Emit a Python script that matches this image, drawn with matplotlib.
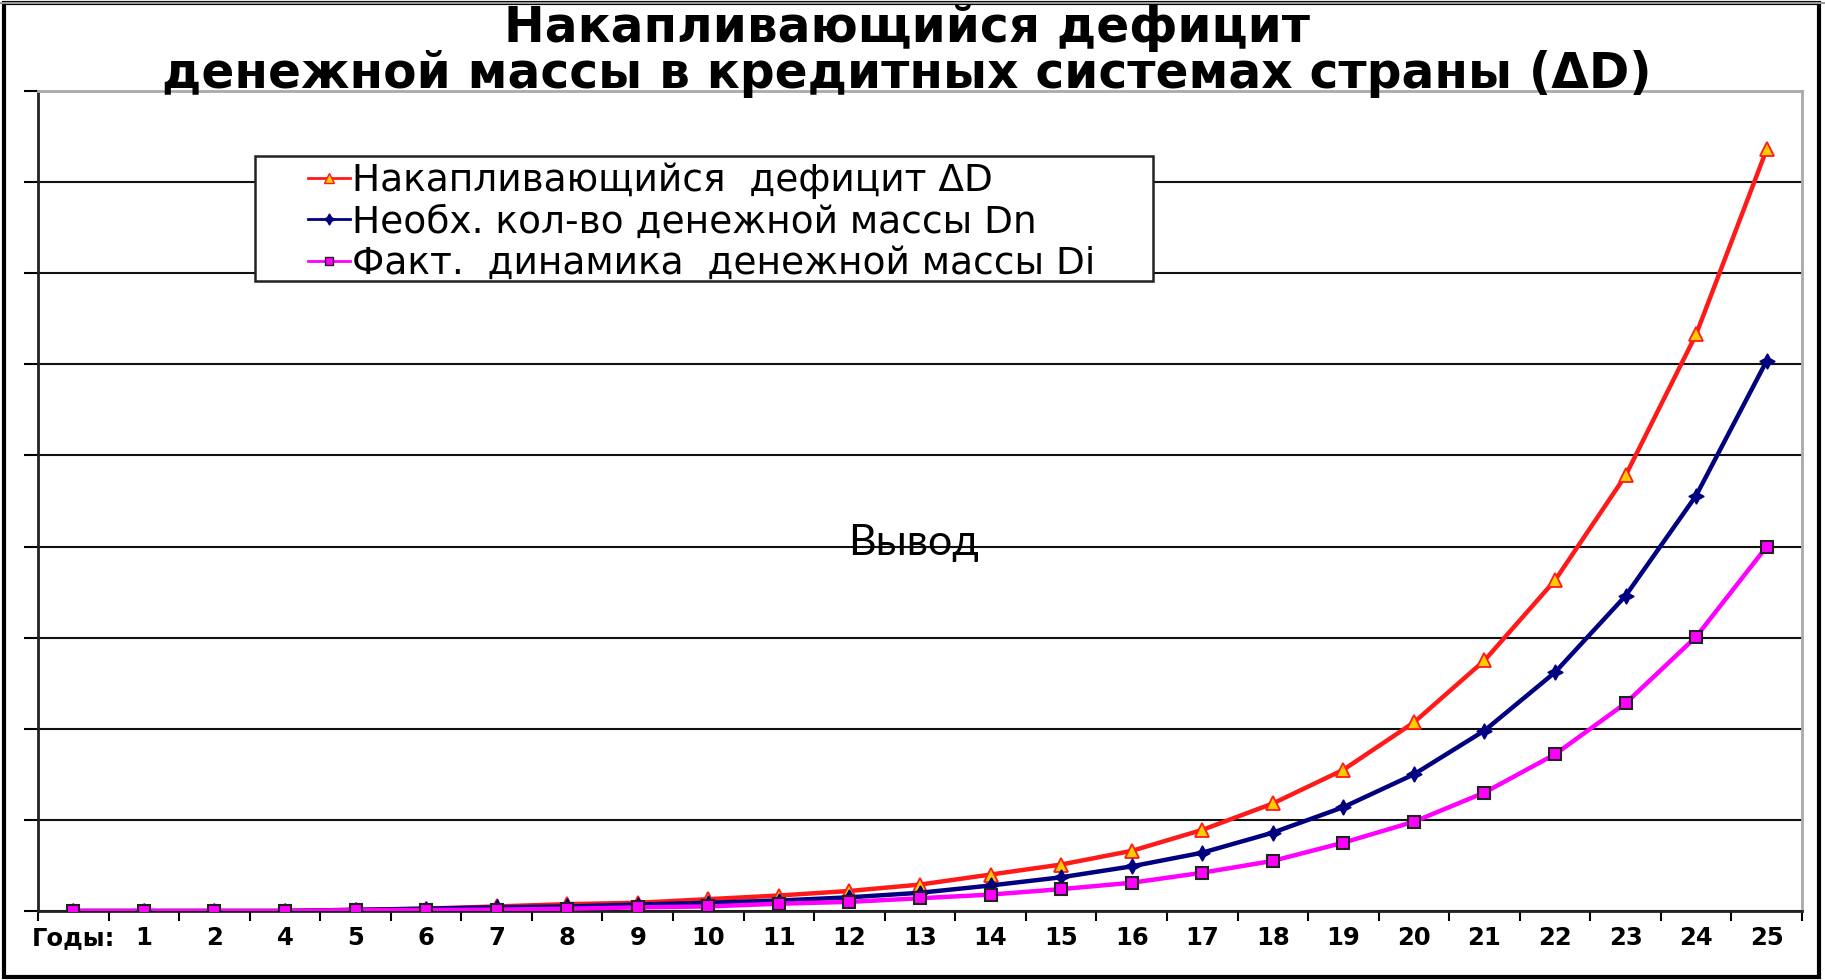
import numpy as np
import matplotlib
matplotlib.use("Agg")
import matplotlib.pyplot as plt
from matplotlib.patches import Rectangle
from matplotlib.lines import Line2D

# categories on the x axis (no "3" in the original)
years = ["Годы:", "1", "2", "4", "5", "6", "7", "8", "9", "10", "11", "12", "13",
         "14", "15", "16", "17", "18", "19", "20", "21", "22", "23", "24", "25"]

# values, in grid units (no y labels in the original)
deficit = [0, 0, 0, 0, 0.013, 0.026, 0.05, 0.075, 0.09, 0.13, 0.17, 0.22, 0.29,
           0.40, 0.51, 0.66, 0.89, 1.18, 1.55, 2.07, 2.75, 3.63, 4.78, 6.33, 8.36]
needed = [0, 0, 0, 0, 0.013, 0.025, 0.04, 0.05, 0.07, 0.09, 0.115, 0.15, 0.20,
          0.28, 0.37, 0.49, 0.64, 0.86, 1.14, 1.50, 1.98, 2.62, 3.46, 4.56, 6.04]
actual = [0, 0, 0, 0, 0.01, 0.01, 0.015, 0.025, 0.04, 0.05, 0.08, 0.10, 0.14,
          0.18, 0.24, 0.31, 0.42, 0.55, 0.75, 0.98, 1.30, 1.72, 2.28, 3.01, 4.0]

labels = ["Накапливающийся  дефицит ΔD",
          "Необх. кол-во денежной массы Dn",
          "Факт.  динамика  денежной массы Di"]

fig = plt.figure(figsize=(18.25, 9.8), dpi=100)
ax = fig.add_axes([38 / 1825, 1 - 911 / 980, 1764 / 1825, 820 / 980])

x = np.arange(len(years))
l1, = ax.plot(x, deficit, color="#ff1a1a", lw=3.2, marker="^", ms=10,
              mfc="#ffcc00", mec="#ff1a1a", mew=1.3, zorder=3)
l2, = ax.plot(x, needed, color="#000080", lw=3.2, marker=(4, 1, 0), ms=11,
              mfc="#000080", mec="#000080", zorder=3)
l3, = ax.plot(x, actual, color="#ff00ff", lw=3.2, marker="s", ms=9,
              mfc="#ff00ff", mec="#222222", mew=1.5, zorder=3)

ax.set_xlim(-0.5, len(years) - 0.5)
ax.set_ylim(0, 9)

# category boundaries get the tick marks, labels sit in the middle
ax.set_xticks(np.arange(-0.5, len(years), 1))
ax.set_xticklabels([])
ax.set_xticks(x, minor=True)
ax.set_xticklabels(years, minor=True, fontsize=17.5, fontweight="bold",
                   family="DejaVu Sans")
ax.tick_params(axis="x", which="major", length=7, width=1.5, direction="out")
ax.tick_params(axis="x", which="minor", length=0, pad=11)
ax.set_yticks(np.arange(0, 10, 1))
ax.set_yticklabels([])
ax.tick_params(axis="y", length=10, width=1.5, direction="out")

ax.grid(axis="y", color="#111111", lw=1.5, zorder=0)
ax.set_axisbelow(True)
for s in ["left", "bottom"]:
    ax.spines[s].set_color("#222222")
    ax.spines[s].set_linewidth(2)
for s in ["top", "right"]:
    ax.spines[s].set_color("#aaaaaa")
    ax.spines[s].set_linewidth(2)

# legend box
ax.add_patch(Rectangle((255, 980 - 281), 1153 - 255, 281 - 156,
                       transform=None, facecolor="white", edgecolor="#222222",
                       lw=1.8, zorder=4))
h1 = Line2D([], [], color="#ff1a1a", lw=2, marker="^", ms=7, mfc="#ffcc00", mec="#ff1a1a")
h2 = Line2D([], [], color="#000080", lw=2, marker=(4, 1, 0), ms=8, mfc="#000080", mec="#000080")
h3 = Line2D([], [], color="#ff00ff", lw=2, marker="s", ms=6, mfc="#ff00ff", mec="#222222")
leg = ax.legend([h1, h2, h3], labels, loc="upper left",
                bbox_to_anchor=(282 / 1825, 1 - 136 / 980), bbox_transform=fig.transFigure,
                frameon=False, prop={"family": "DejaVu Sans", "size": 27},
                handlelength=1.1, handletextpad=0.08, labelspacing=0.15,
                borderpad=0.2)
leg.set_zorder(5)

ax.text(0.4966, 4.04, "Вывод", transform=ax.get_yaxis_transform(),
        ha="center", va="center", fontsize=31, family="Lato")

fig.text(0.497, 1 - 51 / 980,
         "Накапливающийся дефицит\nденежной массы в кредитных системах страны (ΔD)",
         ha="center", va="center", multialignment="center", linespacing=0.95,
         fontsize=35, fontweight="bold", family="DejaVu Sans")

# outer frame
fig.add_artist(Rectangle((4, 3), 1815, 974, transform=None, fill=False,
                         edgecolor="black", lw=3))
fig.add_artist(Line2D([0, 1825], [977, 977], transform=None, color="#999999", lw=1.5))

fig.savefig("out.png", dpi=100)
